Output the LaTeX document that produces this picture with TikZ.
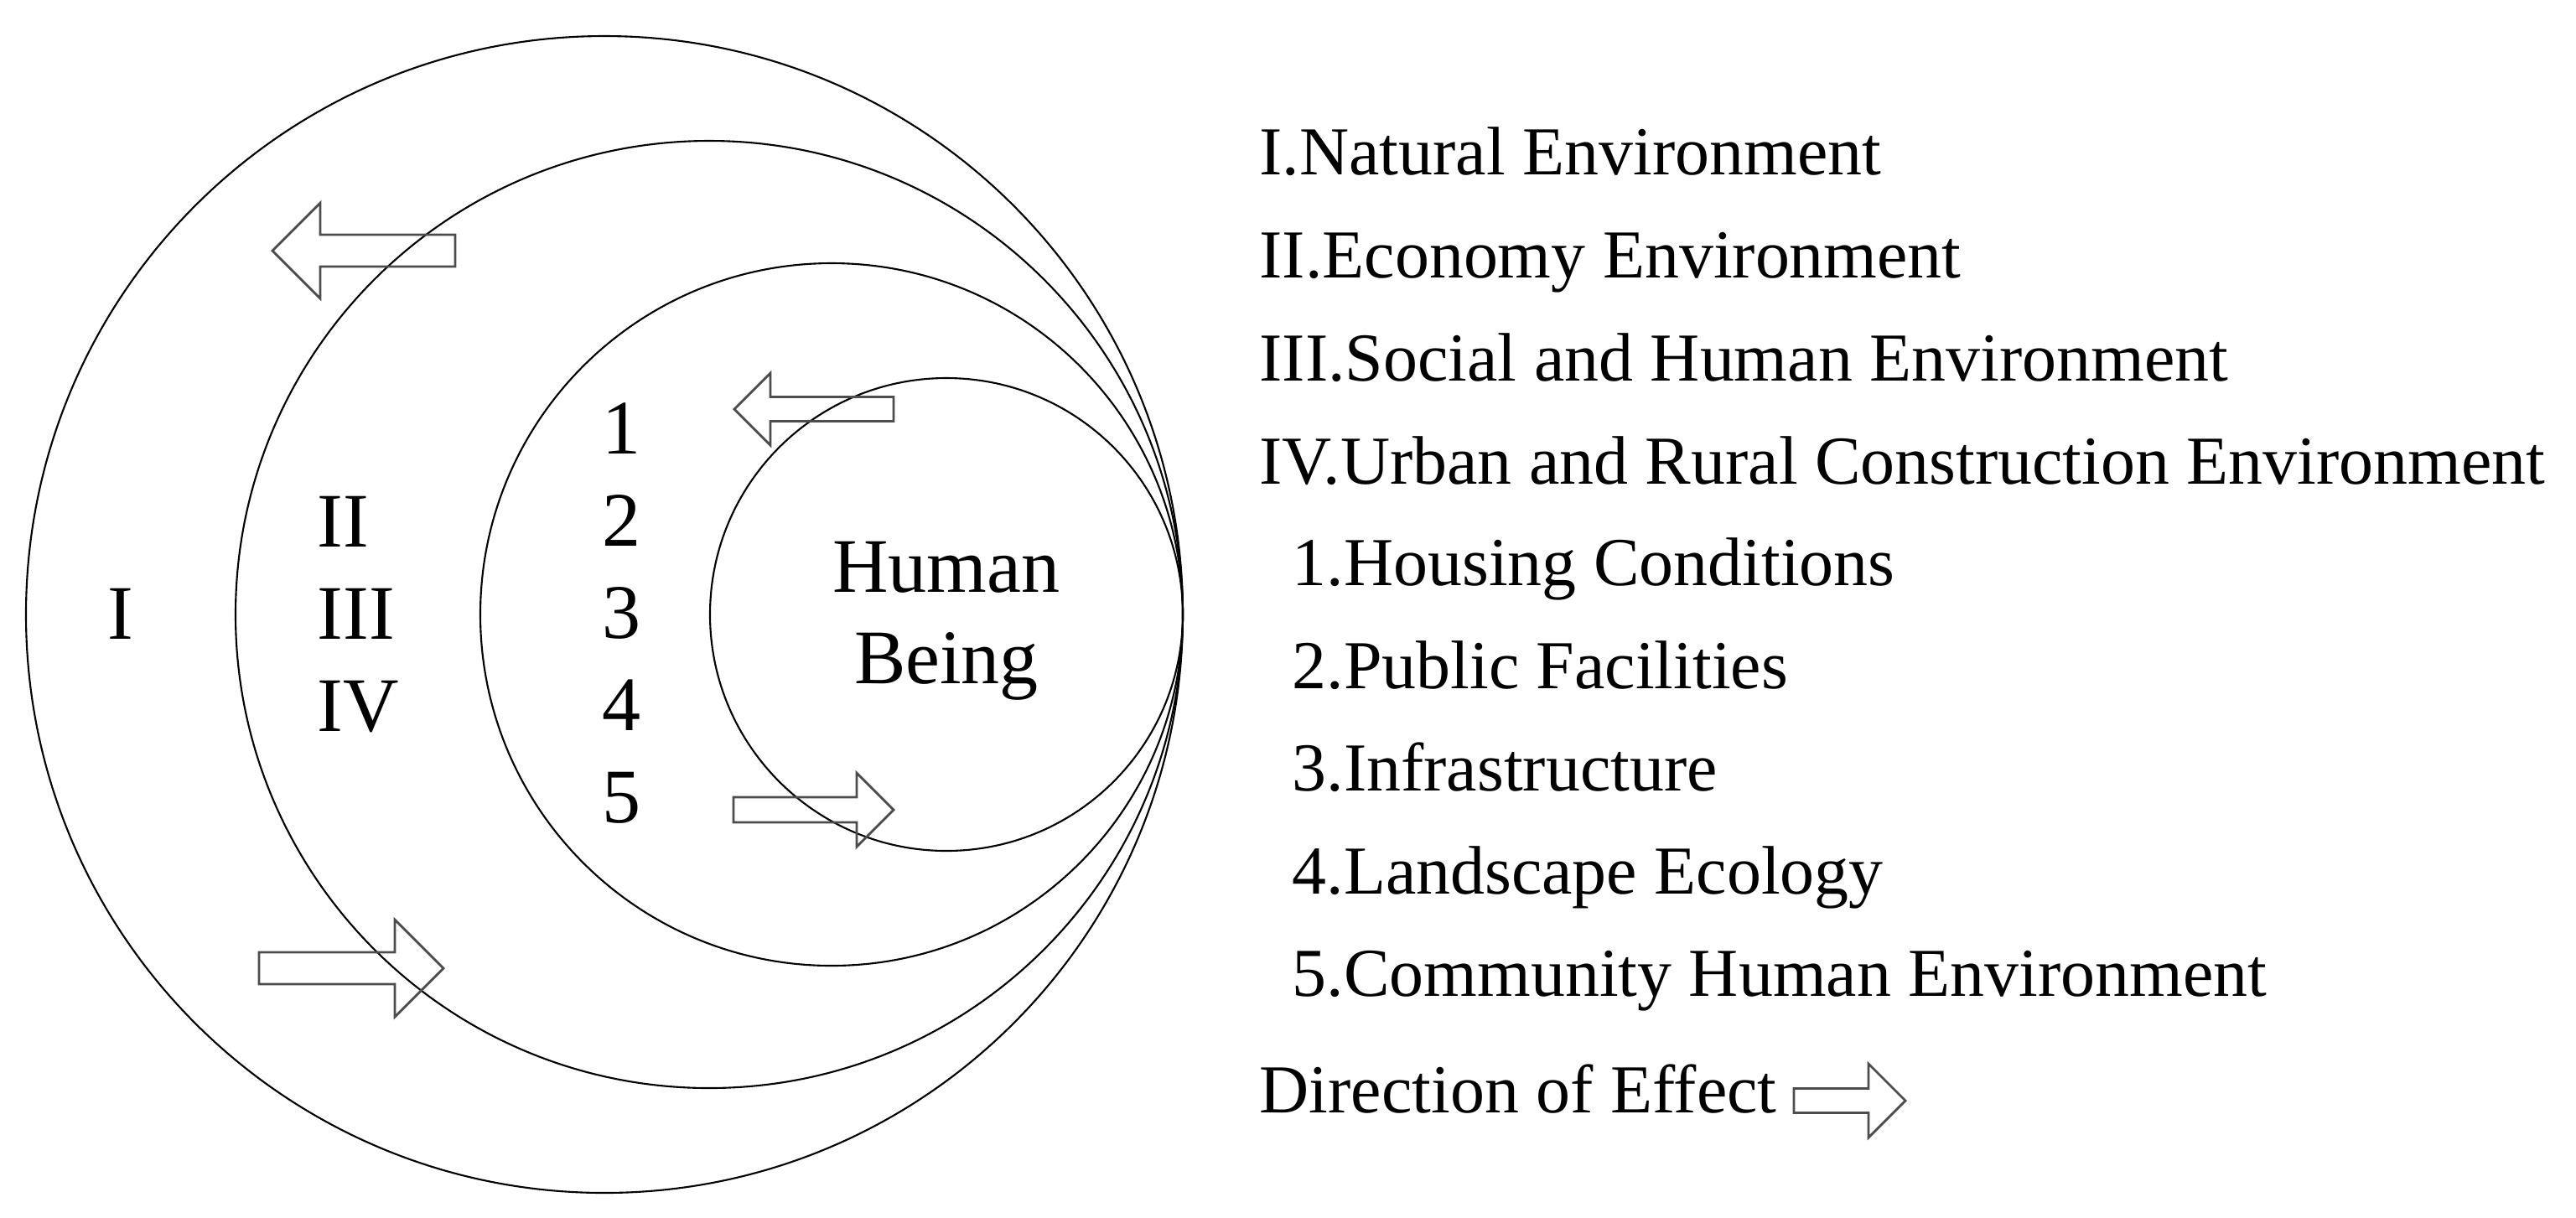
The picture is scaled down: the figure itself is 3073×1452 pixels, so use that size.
\documentclass[tikz,border=0pt]{standalone}
\usepackage{fontspec}
\setmainfont{Liberation Serif}
\usetikzlibrary{calc}

% block arrow: tail point, direction (1 or -1), length, head size, half shaft
\newcommand{\effectarrow}[5]{%
  \begin{scope}[shift={#1}, xscale=#2]
    \draw[effect] (0,-#5) -- (#3-#4,-#5) -- (#3-#4,-#4) -- (#3,0)
      -- (#3-#4,#4) -- (#3-#4,#5) -- (0,#5) -- cycle;
  \end{scope}}

\begin{document}
\begin{tikzpicture}[x=0.1mm, y=-0.1mm,
  ring/.style={line width=0.6pt},
  effect/.style={draw=black!70, line width=0.8pt},
  zone/.style={font=\fontsize{26.2}{31}\selectfont, inner sep=0pt},
  legend/.style={font=\fontsize{23.3}{28}\selectfont, inner sep=0pt, anchor=base west}]
\useasboundingbox (0,0) rectangle (3073,1452);

% Nested circles touching at one point
\coordinate (touch) at (1411,733);
\foreach \r in {690,565,419,282}
  \draw[ring] ($(touch)-(\r,0)$) circle[radius=\r];

% Labels inside the circles
\node[zone, anchor=base] (zoneI) at (144,762) {I};
\foreach \t [count=\i from 2] in {II,III,IV}
  \node[zone, anchor=base west] (zone\i) at (378,{432+110*\i}) {\t};
\foreach \n in {1,...,5}
  \node[zone, anchor=base] (item\n) at (742,{431+110*\n}) {\n};
\node[zone, anchor=base] (human) at (1129,706) {Human};
\node[zone, anchor=base] (being) at (1129,815) {Being};

% Direction of effect arrows
\effectarrow{(543,299)}{-1}{218}{57}{19}
\effectarrow{(309,1155)}{1}{220}{58}{19}
\effectarrow{(1066,488)}{-1}{190}{43}{14.5}
\effectarrow{(875,966)}{1}{191}{44}{15}

% Legend
\node[legend] (lgI) at (1502,208) {I.Natural Environment};
\node[legend] (lgII) at (1502,331) {II.Economy Environment};
\node[legend] (lgIII) at (1502,454) {III.Social and Human Environment};
\node[legend] (lgIV) at (1502,577) {IV.Urban and Rural Construction Environment};
\foreach \t [count=\i] in {Housing Conditions, Public Facilities, Infrastructure, Landscape Ecology, Community Human Environment}
  \node[legend] (lg\i) at (1541,{576+122.5*\i}) {\i.\t};
\node[legend] (lgdir) at (1502,1327) {Direction of Effect};
\effectarrow{(2140,1313)}{1}{133}{44}{14.5}
\end{tikzpicture}
\end{document}
